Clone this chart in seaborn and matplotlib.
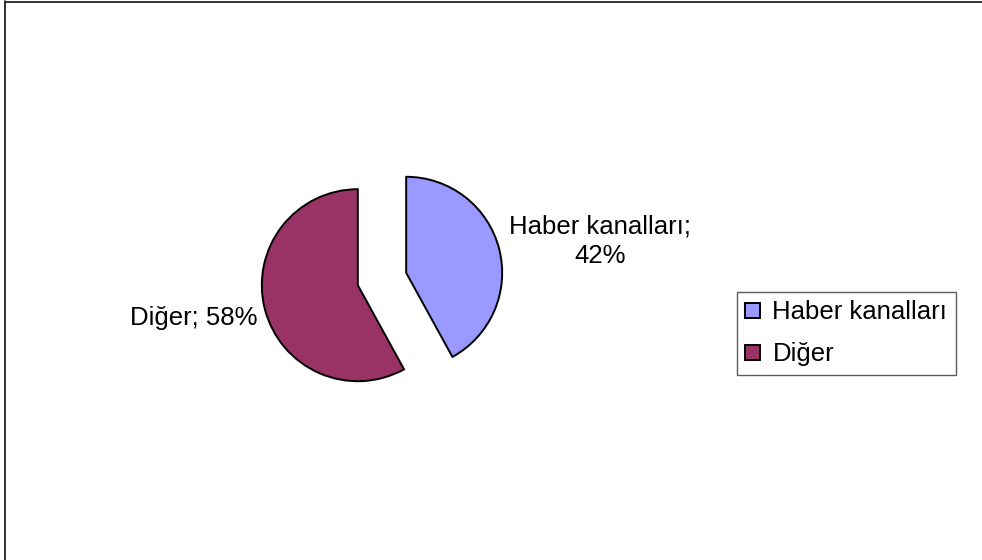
import matplotlib
matplotlib.use("Agg")
import matplotlib.pyplot as plt
import seaborn as sns
from matplotlib.lines import Line2D

categories = ["Haber kanalları", "Diğer"]
values = [42, 58]
colors = ["#9999FF", "#993366"]

sns.set_theme(style="white")
plt.rcParams["font.family"] = ["Liberation Sans", "DejaVu Sans"]
plt.rcParams["text.color"] = "black"

W, H = 982, 560
fig = plt.figure(figsize=(W / 100, H / 100), dpi=100)
ax = fig.add_axes([0, 0, 1, 1])

cx, cy = 382, 279   # pie centre in pixels (from top)
R = 96              # radius in pixels

wedges, _ = ax.pie(values, colors=colors, startangle=90, counterclock=False,
                   explode=[0.26, 0.26], radius=1,
                   wedgeprops=dict(edgecolor="black", linewidth=1.4))
ax.set_xlim(-cx / R, (W - cx) / R)
ax.set_ylim(-(H - cy) / R, cy / R)
ax.set_aspect("equal")
ax.axis("off")

def px(x, y):
    return ((x - cx) / R, (cy - y) / R)

ax.text(*px(600, 241), f"{categories[0]};\n{values[0]}%", ha="center", va="center",
        fontsize=18.5, linespacing=1.3, color="black")
ax.text(*px(257, 318), f"{categories[1]}; {values[1]}%", ha="right", va="center",
        fontsize=18.5, color="black")

leg = fig.legend(wedges, categories, loc="upper left",
                 bbox_to_anchor=(737 / W, 1 - 292 / H), fontsize=18.5,
                 frameon=True, fancybox=False, handlelength=0.55, handleheight=0.55,
                 handletextpad=0.5, borderpad=0.33, labelspacing=0.7,
                 borderaxespad=0, labelcolor="black")
leg.get_frame().set_edgecolor("#333333")
leg.get_frame().set_linewidth(1.0)

# figure border (top and left visible)
fig.add_artist(Line2D([5 / W, 5 / W], [0, 1 - 1 / H], transform=fig.transFigure,
                      color="#222222", linewidth=1.3))
fig.add_artist(Line2D([5 / W, 1], [1 - 1.5 / H, 1 - 1.5 / H], transform=fig.transFigure,
                      color="#222222", linewidth=1.3))

fig.savefig("out.png", dpi=100)
